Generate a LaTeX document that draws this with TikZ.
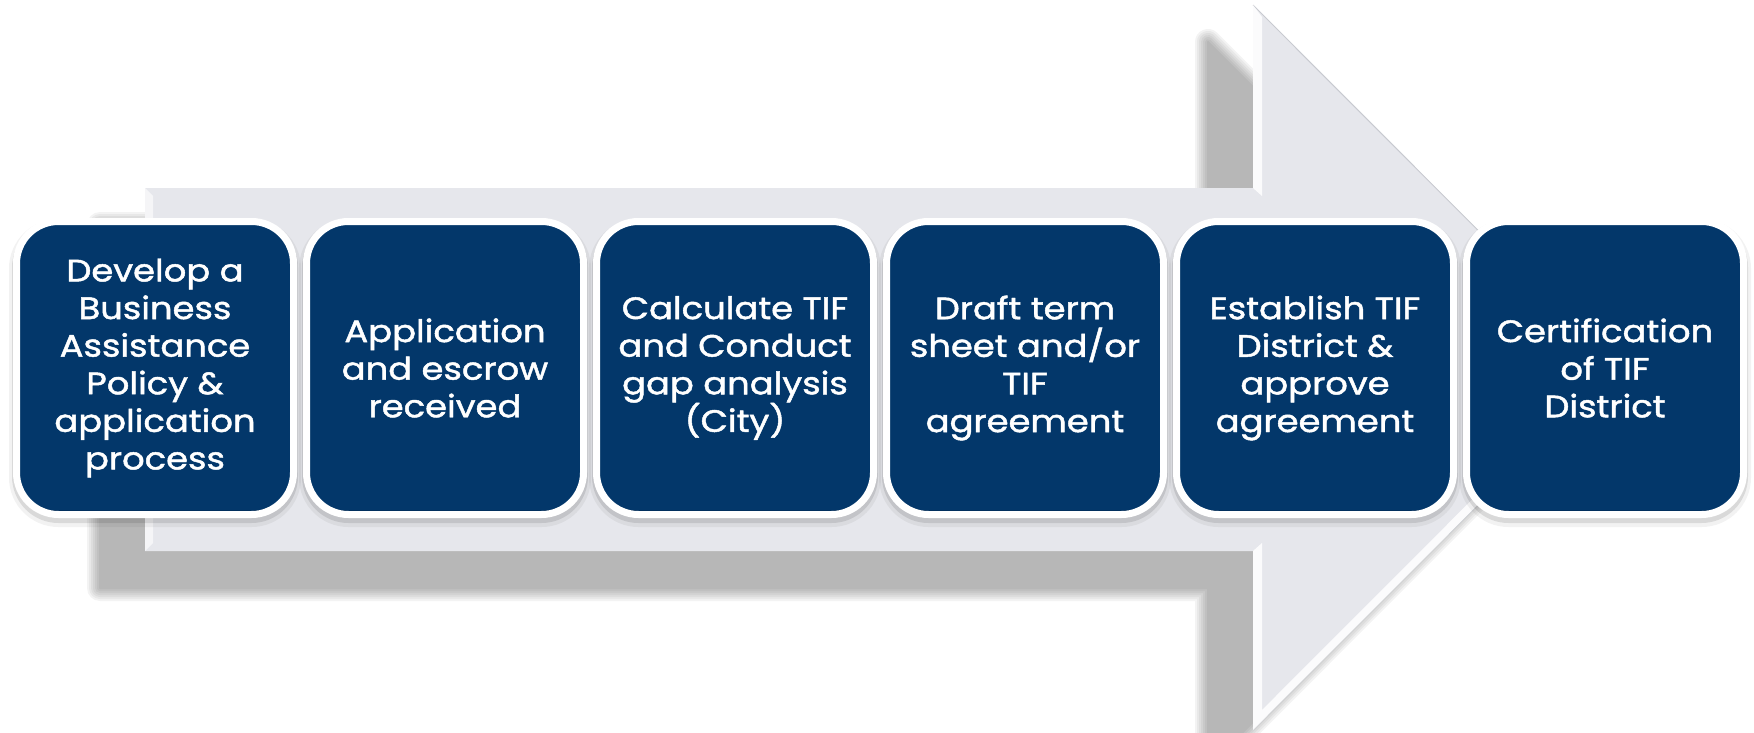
\documentclass[tikz,border=0pt]{standalone}
\usepackage{fontspec}
\setmainfont{Poppins}
\newfontfamily\stepfont{Poppins}[FakeStretch=1.14, FakeBold=1.5]
\definecolor{navy}{RGB}{3,55,106}
\definecolor{navyrim}{RGB}{1,36,72}
\definecolor{arrowgray}{RGB}{230,231,236}
\definecolor{edgegray}{RGB}{200,202,208}
\tikzset{
  stepbox/.style={
    rectangle, rounded corners=42pt, minimum width=277pt, minimum height=293pt,
    inner sep=0pt, fill=navyrim, draw=white, line width=7pt,
    text=white, align=center,
    font=\stepfont\fontsize{31}{37.6}\selectfont,
    preaction={draw=black, line width=15pt, opacity=0.05, transform canvas={yshift=-5pt}},
    preaction={draw=black, line width=9pt, opacity=0.10, transform canvas={yshift=-4pt}},
    path picture={
      \fill[navy, rounded corners=40pt]
        ([yshift=4pt]path picture bounding box.south west) rectangle
        ([yshift=4pt]path picture bounding box.north east);
    }
  },
  bevel/.style={fill=white, opacity=0.85},
}
\begin{document}
\begin{tikzpicture}[x=1pt, y=-1pt]
\useasboundingbox (0,0) rectangle (1754,733);

% outline points of the big arrow
\coordinate (btl) at (145,188);
\coordinate (btr) at (1253,188);
\coordinate (htop) at (1253,5);
\coordinate (tip) at (1615,367.5);
\coordinate (hbot) at (1253,730);
\coordinate (bbr) at (1253,551);
\coordinate (bbl) at (145,551);

% soft drop shadow of the arrow, offset down and to the left
\begin{scope}[transform canvas={shift={(-45pt,-37pt)}}]
\foreach \w in {26,22,18,14,10,6,2}{
  \begin{scope}[transparency group, opacity=0.046]
    \filldraw[black, line width=\w pt, line join=round]
      (btl) -- (btr) -- (htop) -- (tip) -- (hbot) -- (bbr) -- (bbl) -- cycle;
  \end{scope}
}
\end{scope}

% arrow body and head
\fill[arrowgray] (btl) -- (btr) -- (htop) -- (tip) -- (hbot) -- (bbr) -- (bbl) -- cycle;
\draw[edgegray, line width=1pt] (htop) -- (tip);
\draw[edgegray, line width=0.8pt] (hbot) -- (tip);

% bevelled edges
\fill[bevel] (htop) -- (1262,17) -- (1262,196) -- (btr) -- cycle;
\fill[bevel] (bbr) -- (1262,543) -- (1262,710) -- (1604,367.5) -- (tip) -- (hbot) -- cycle;
\fill[white, opacity=0.6] (btl) -- (153,196) -- (153,543) -- (bbl) -- cycle;

% process steps
\node[stepbox] (s1) at (155,368) {Develop a\\Business\\Assistance\\Policy \&\\application\\process};
\node[stepbox] (s2) at (445,368) {Application\\and escrow\\received};
\node[stepbox] (s3) at (735,368) {Calculate TIF\\and Conduct\\gap analysis\\(City)};
\node[stepbox] (s4) at (1025,368) {Draft term\\sheet and/or\\TIF\\agreement};
\node[stepbox] (s5) at (1315,368) {Establish TIF\\District \&\\approve\\agreement};
\node[stepbox] (s6) at (1605,368) {Certification\\of TIF\\District};
\end{tikzpicture}
\end{document}
